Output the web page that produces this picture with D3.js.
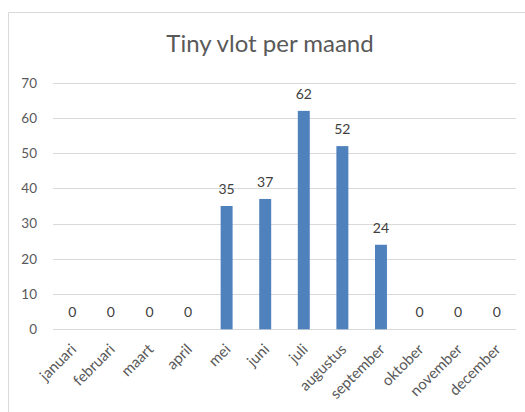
<!DOCTYPE html>
<html><head><meta charset="utf-8">
<script src="https://cdn.jsdelivr.net/npm/d3@7"></script>
<style>
html,body{margin:0;padding:0;background:#fff;}
svg{display:block;font-family:Lato,"Open Sans",sans-serif;}
</style></head>
<body>
<script>
const months = ["januari","februari","maart","april","mei","juni","juli","augustus","september","oktober","november","december"];
const values = [0,0,0,0,35,37,62,52,24,0,0,0];
const yTicks = [0,10,20,30,40,50,60,70];
const title = "Tiny vlot per maand";

const W = 525, H = 412;
const svg = d3.select("body").append("svg").attr("width", W).attr("height", H);

// chart border
svg.append("path").attr("d", "M8.5,412 V12.5 H525").attr("fill","none").attr("stroke","#d9d9d9").attr("stroke-width",1);

const m = {left:53, right:516, top:82.7, bottom:329.3};
const x = d3.scaleBand().domain(months).range([m.left, m.right]).paddingInner(0.69).paddingOuter(0.345);
const y = d3.scaleLinear().domain([0,70]).range([m.bottom, m.top]);

svg.append("text").attr("x", 270).attr("y", 52).attr("text-anchor","middle")
  .attr("font-size", 24).attr("fill","#595959").text(title);

// gridlines
svg.append("g").selectAll("line").data(yTicks).join("line")
  .attr("x1", m.left).attr("x2", m.right)
  .attr("y1", d => Math.round(y(d))+0.5).attr("y2", d => Math.round(y(d))+0.5)
  .attr("stroke","#d9d9d9").attr("stroke-width",1);

// y axis labels
const yAxis = d3.axisLeft(y).tickValues(yTicks).tickSize(0).tickPadding(0);
const ga = svg.append("g").attr("transform", `translate(${m.left-16},0)`).call(yAxis);
ga.select(".domain").remove();
ga.selectAll("text").attr("font-size", 13.5).attr("fill","#595959").attr("font-family","Lato,'Open Sans',sans-serif");

// bars
svg.append("g").selectAll("rect").data(values).join("rect")
  .attr("x", (d,i) => x(months[i])).attr("width", x.bandwidth())
  .attr("y", d => y(d)).attr("height", d => y(0) - y(d))
  .attr("fill","#4F81BD");

// data labels
svg.append("g").selectAll("text").data(values).join("text")
  .attr("x", (d,i) => x(months[i]) + x.bandwidth()/2)
  .attr("y", d => y(d) - 12)
  .attr("text-anchor","middle").attr("font-size", 14).attr("fill","#404040")
  .text(d => d);

// x axis labels
const xAxis = d3.axisBottom(x).tickSize(0).tickPadding(0);
const gx = svg.append("g").attr("transform", `translate(0,${m.bottom})`).call(xAxis);
gx.select(".domain").remove();
gx.selectAll("text")
  .attr("font-size", 15).attr("fill","#595959").attr("font-family","Lato,'Open Sans',sans-serif")
  .attr("text-anchor","end").attr("dy", null).attr("y", 0)
  .attr("transform", "translate(5,21) rotate(-45)");
</script>
</body></html>
